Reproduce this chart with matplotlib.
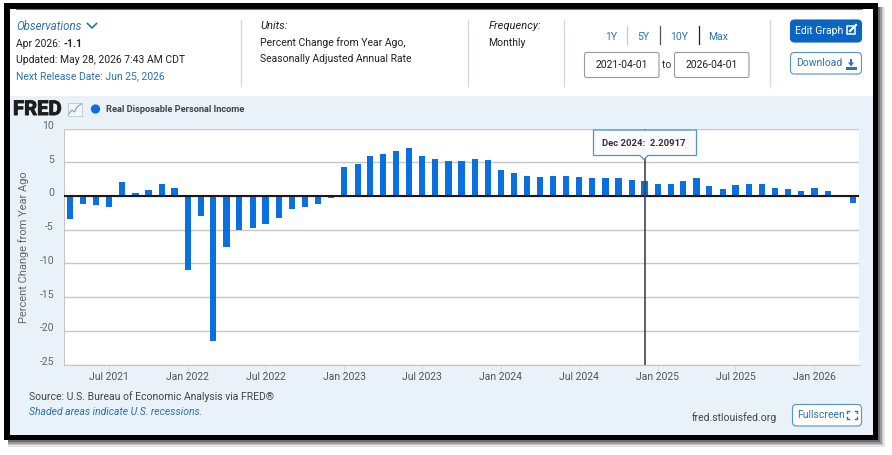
import datetime as dt
import numpy as np
import matplotlib
matplotlib.use("Agg")
import matplotlib.pyplot as plt
import matplotlib.dates as mdates
import matplotlib.patheffects as pe
from matplotlib.patches import Rectangle, FancyBboxPatch, Circle, Polygon
from matplotlib.transforms import ScaledTranslation

plt.rcParams['font.family'] = ['Roboto', 'DejaVu Sans']

# ---------- data ----------
start_year = 2021
start_month = 4
values = [-3.4, -1.15, -1.35, -1.6, 2.1, 0.45, 0.9, 1.75, 1.25,
          -11.0, -3.05, -21.5, -7.5, -5.0, -4.7, -4.1, -3.3, -1.95, -1.65, -1.2, -0.3,
          4.3, 4.75, 5.95, 6.25, 6.7, 7.1, 5.95, 5.5, 5.2, 5.2, 5.5, 5.35,
          3.85, 3.4, 2.95, 2.8, 2.95, 2.95, 2.8, 2.65, 2.67, 2.67, 2.4, 2.20917,
          1.8, 1.8, 2.25, 2.67, 1.5, 1.05, 1.55, 1.8, 1.8, 1.2, 1.0, 0.75,
          1.25, 0.7, np.nan, -1.1]
y_ticks = [-25, -20, -15, -10, -5, 0, 5, 10]
x_tick_dates = [dt.date(2021, 7, 1), dt.date(2022, 1, 1), dt.date(2022, 7, 1),
                dt.date(2023, 1, 1), dt.date(2023, 7, 1), dt.date(2024, 1, 1),
                dt.date(2024, 7, 1), dt.date(2025, 1, 1), dt.date(2025, 7, 1),
                dt.date(2026, 1, 1)]
x_tick_labels = ['Jul 2021', 'Jan 2022', 'Jul 2022', 'Jan 2023', 'Jul 2023',
                 'Jan 2024', 'Jul 2024', 'Jan 2025', 'Jul 2025', 'Jan 2026']
series_name = 'Real Disposable Personal Income'
y_label = 'Percent Change from Year Ago'
hover_date = dt.date(2024, 12, 1)
hover_text = 'Dec 2024:  2.20917'

dates = [dt.date(start_year + (start_month - 1 + i) // 12, (start_month - 1 + i) % 12 + 1, 1)
         for i in range(len(values))]

W, H = 892, 456
BLUE = '#0a6fdf'
LINK = '#2a72b5'
PANEL = '#e9f1f9'
GRID = '#c6c6c6'
FS = 7.5

fig = plt.figure(figsize=(W / 100, H / 100), dpi=100, facecolor='white')

# page chrome layer, in pixels
bg = fig.add_axes([0, 0, 1, 1], zorder=0)
bg.set_xlim(0, W); bg.set_ylim(H, 0); bg.axis('off')
for off, col in [(6.5, '#e4e4e4'), (5, '#c4c4c4'), (3.5, '#9a9a9a'), (2, '#6a6a6a')]:
    bg.add_patch(Rectangle((8, 8), 870 + off, 433.5 + off, fc=col, ec='none'))
bg.add_patch(Rectangle((4, 4), 874, 437.5, fc='black', ec='none'))
bg.add_patch(Rectangle((10, 10), 862.5, 426, fc='white', ec='none'))
bg.add_patch(Rectangle((10, 97), 862.5, 339, fc=PANEL, ec='none'))
bg.plot([16, 862], [10.3, 10.3], color='#5f7f8f', lw=0.8)
for x in [240.5, 467.5, 563.5, 769.5]:
    bg.plot([x, x], [21, 87], color='#cfdbe3', lw=1)


def t(x, y, s, size=FS, color='#222222', **kw):
    kw.setdefault('va', 'center')
    kw.setdefault('ha', 'left')
    return bg.text(x, y, s, fontsize=size, color=color, **kw)


t(16, 26.5, 'Observations', 8.3, LINK, style='italic')
bg.plot([87.5, 92, 96.5], [24.5, 29, 24.5], color=LINK, lw=1.2)
t(16, 44, 'Apr 2026:')
t(64, 44, '-1.1', weight='bold')
t(16, 60, 'Updated: May 28, 2026 7:43 AM CDT')
t(16, 76, 'Next Release Date: Jun 25, 2026', FS, LINK)
t(260.5, 26, 'Units:', 8.0, style='italic')
t(260.5, 42.5, 'Percent Change from Year Ago,')
t(260.5, 59.5, 'Seasonally Adjusted Annual Rate')
t(488.5, 26, 'Frequency:', 8.0, style='italic')
t(488.5, 42.5, 'Monthly')
for x, s in [(611, '1Y'), (643.5, '5Y'), (679, '10Y'), (718.5, 'Max')]:
    t(x, 36.5, s, FS, LINK, ha='center')
for x, c in [(627, '#c9c9c9'), (659.5, '#555555'), (698.5, '#222222')]:
    bg.plot([x, x], [27, 45], color=c, lw=0.9)
for x, w, s in [(584.5, 74.5, '2021-04-01'), (674.5, 74.5, '2026-04-01')]:
    bg.add_patch(FancyBboxPatch((x, 53.5), w, 25, boxstyle='round,pad=0,rounding_size=2',
                                fc='white', ec='#9a9a9a', lw=0.8))
    t(x + w / 2, 65.5, s, FS, ha='center')
t(666.5, 65.5, 'to', FS, '#333333', ha='center')

# buttons
bg.add_patch(FancyBboxPatch((790.5, 21), 71, 22, boxstyle='round,pad=0,rounding_size=4',
                            fc='#0a64c2', ec='#0a64c2', lw=0.8))
t(795, 31.5, 'Edit Graph', FS, 'white')
bg.add_patch(Rectangle((847, 27), 7.5, 8, fc='none', ec='white', lw=1.1))
bg.plot([850, 856], [32, 26], color='white', lw=1.6)
bg.add_patch(FancyBboxPatch((790.5, 53.5), 71, 21.5, boxstyle='round,pad=0,rounding_size=4',
                            fc='white', ec='#4f93cf', lw=0.8))
t(796, 63.5, 'Download', FS, LINK)
bg.add_patch(Rectangle((845.5, 67.5), 11, 3, fc=LINK, ec='none'))
bg.add_patch(Polygon([[848, 63.5], [850, 63.5], [850, 60], [852, 60], [852, 63.5], [854, 63.5], [851, 67.5]],
                     fc=LINK, ec='none'))
bg.add_patch(FancyBboxPatch((792.5, 405.5), 69, 21.5, boxstyle='round,pad=0,rounding_size=4',
                            fc='white', ec='#4f93cf', lw=0.8))
t(797, 415.5, 'Fullscreen', FS, LINK)
for (a, b), (sx, sy) in zip([(847, 412), (857, 412), (847, 420), (857, 420)],
                            [(1, 1), (-1, 1), (1, -1), (-1, -1)]):
    bg.plot([a + 2 * sx, a, a], [b, b, b + 2 * sy], color=LINK, lw=1)

# logo + legend
logo = t(13, 110.5, 'FRED', 14.6, '#1d1d1d', weight='bold')
logo.set_path_effects([pe.withStroke(linewidth=0.7, foreground='#1d1d1d')])
bg.add_patch(Rectangle((67.5, 103.5), 14, 13.5, fc='#f3f7fb', ec='#b7c9d8', lw=0.6))
bg.plot([68.5, 72, 74.5, 77, 81], [115, 111, 113, 108, 105], color='#7ea2c0', lw=0.8)
bg.add_patch(Circle((95.5, 110), 4.6, fc=BLUE, ec='none'))
t(106.5, 110, series_name, 6.7, '#444444', weight='bold')

# footer
t(29, 397, 'Source: U.S. Bureau of Economic Analysis via FRED®', FS, '#444444')
t(29, 412, 'Shaded areas indicate U.S. recessions.', FS, LINK, style='italic')
t(692, 417.5, 'fred.stlouisfed.org', FS, '#444444')

# chart
x0, x1, ytop, ybot = 63.5, 859, 129.5, 365.5
ax = fig.add_axes([x0 / W, 1 - ybot / H, (x1 - x0) / W, (ybot - ytop) / H], zorder=2)
ax.set_facecolor('white')
xnum = mdates.date2num(dates)
ax.bar(xnum, values, width=14.5, color=BLUE, zorder=3, linewidth=0)
ax.set_xlim(xnum[0] - 15, xnum[-1] + 14)
ax.set_ylim(y_ticks[0], y_ticks[-1])
ax.set_yticks(y_ticks)
ax.set_yticklabels([str(v) for v in y_ticks], fontsize=FS, color='#666666')
ax.set_xticks(mdates.date2num(x_tick_dates))
ax.set_xticklabels(x_tick_labels, fontsize=FS, color='#555555')
ax.tick_params(axis='y', length=0, pad=6.8)
ax.tick_params(axis='x', length=6, width=0.7, color='#d3dbe5', pad=-1)
shift = ScaledTranslation(0, 4.5 / 100, fig.dpi_scale_trans)
for lab in ax.get_yticklabels():
    lab.set_transform(lab.get_transform() + shift)
ax.grid(axis='y', color=GRID, lw=1, zorder=1)
ax.set_axisbelow(True)
for s in ['top', 'right']:
    ax.spines[s].set_visible(False)
ax.spines['left'].set_color(GRID)
ax.spines['bottom'].set_color(GRID)
ax.spines['left'].set_linewidth(0.8)
ax.spines['bottom'].set_linewidth(0.8)
ax.axhline(0, color='#1a1a1a', lw=1.5, zorder=4)
hx = mdates.date2num(hover_date)
ax.axvline(hx, color='#444444', lw=1.2, zorder=5)
ax.set_ylabel(y_label, fontsize=7.9, color='#666666', va='center')
ax.yaxis.set_label_coords((23.7 - x0) / (x1 - x0), 0.5)

# hover label
ax2 = fig.add_axes([0, 0, 1, 1], zorder=3)
ax2.set_xlim(0, W); ax2.set_ylim(H, 0); ax2.axis('off')
ax2.patch.set_alpha(0)
ax2.add_patch(Polygon([[593.5, 131], [696.5, 131], [696.5, 156.5], [648, 156.5], [644, 160.5],
                       [640, 156.5], [593.5, 156.5]], closed=True, fc='#fbfbfb', ec='#4f93cf', lw=0.9))
ax2.text(601.5, 143.5, hover_text, fontsize=6.8, weight='bold', color='#333333', va='center')

fig.savefig('out.png', dpi=100, facecolor='white')
